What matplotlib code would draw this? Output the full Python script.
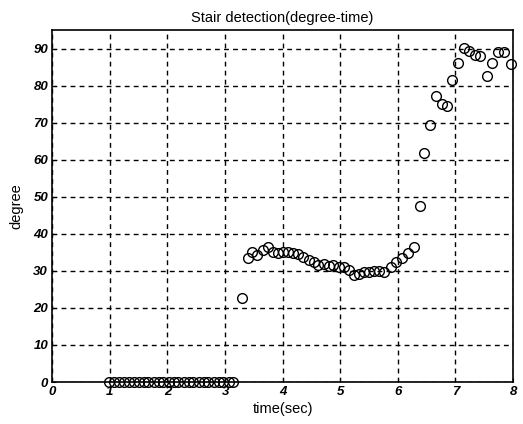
import matplotlib
matplotlib.use("Agg")
import matplotlib.pyplot as plt

# stair detection samples
t_flat = [0.98, 1.07, 1.15, 1.24, 1.33, 1.41, 1.50, 1.59, 1.67, 1.76, 1.85,
          1.93, 2.02, 2.11, 2.19, 2.28, 2.37, 2.45, 2.54, 2.63, 2.71, 2.80,
          2.89, 2.97, 3.06, 3.14]
deg_flat = [0] * len(t_flat)

t_mid = [3.30, 3.39, 3.47, 3.56, 3.65, 3.75, 3.84, 3.92, 4.01, 4.10, 4.18,
         4.27, 4.36, 4.45, 4.54, 4.62, 4.71, 4.80, 4.88, 4.97, 5.06, 5.15,
         5.23, 5.32, 5.41, 5.50, 5.58, 5.67, 5.76, 5.88, 5.97, 6.07, 6.18,
         6.28]
deg_mid = [22.8, 33.6, 35.1, 34.2, 35.6, 36.5, 35.0, 34.8, 35.0, 35.0, 34.8,
           34.6, 33.8, 33.0, 32.4, 31.6, 31.8, 31.2, 31.5, 31.0, 31.0, 30.2,
           29.0, 29.2, 29.6, 29.8, 30.0, 30.0, 29.8, 31.0, 32.4, 33.6, 34.9,
           36.4]

t_rise = [6.38, 6.46, 6.56, 6.67, 6.76, 6.86, 6.94, 7.05, 7.15, 7.24, 7.34,
          7.42, 7.54, 7.64, 7.74, 7.84, 7.97]
deg_rise = [47.5, 61.9, 69.3, 77.2, 75.1, 74.5, 81.4, 86.2, 90.2, 89.3, 88.3,
            88.0, 82.5, 86.1, 89.2, 89.2, 85.9]

time = t_flat + t_mid + t_rise
degree = deg_flat + deg_mid + deg_rise

xticks = list(range(0, 9))
yticks = list(range(0, 100, 10))

plt.rcParams["font.family"] = ["Liberation Sans", "DejaVu Sans"]

fig = plt.figure(figsize=(5.23, 4.24), dpi=100)
ax = fig.add_axes([0.100, 0.099, 0.881, 0.830])

ax.plot(time, degree, "o", mfc="none", mec="k", ms=7, mew=1.0, clip_on=False)

ax.set_xlim(0, 8)
ax.set_ylim(0, 95)
ax.set_xticks(xticks)
ax.set_yticks(yticks)
ax.tick_params(direction="in", length=3, labelsize=9.5, color="k", pad=3)
for lab in ax.get_xticklabels() + ax.get_yticklabels():
    lab.set_fontweight("bold")
    lab.set_fontstyle("italic")

ax.grid(True, color="k", linestyle=(0, (3.5, 3)), linewidth=1.0)
for s in ax.spines.values():
    s.set_color("k")
    s.set_linewidth(1.2)

ax.set_title("Stair detection(degree-time)", fontsize=10.5, pad=6)
ax.set_xlabel("time(sec)", fontsize=10.5, labelpad=3)
ax.set_ylabel("degree", fontsize=10.5, labelpad=7)

fig.savefig("out.png", dpi=100)
